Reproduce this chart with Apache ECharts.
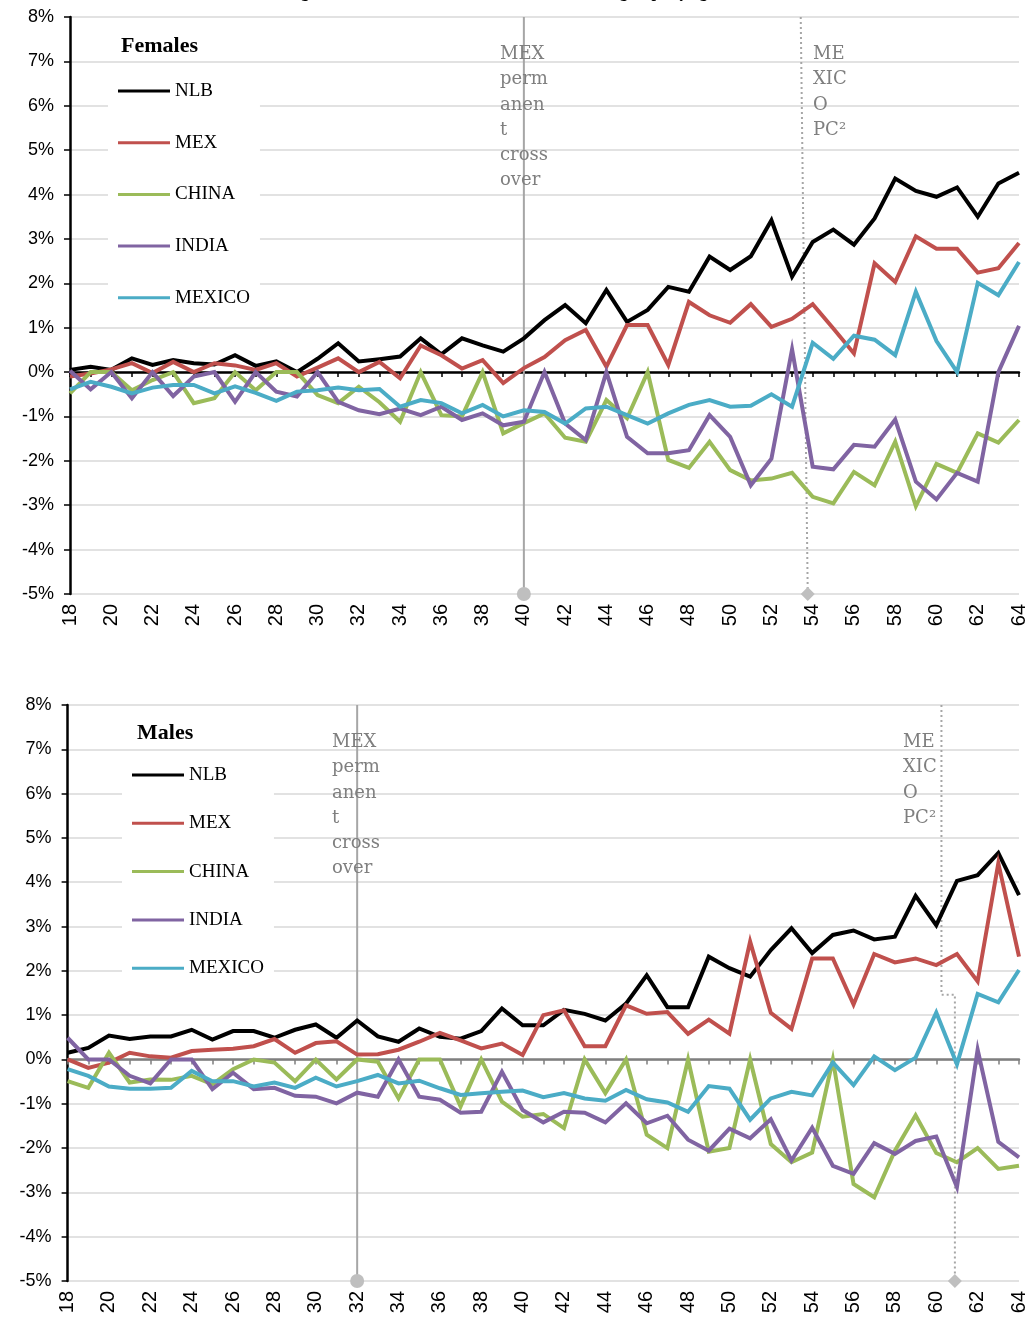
<!DOCTYPE html>
<html>
<head>
<meta charset="utf-8">
<script src="https://cdn.jsdelivr.net/npm/echarts@6/dist/echarts.min.js"></script>
<style>
  html, body { margin: 0; padding: 0; background: #fff; }
  #chart { width: 1029px; height: 1329px; }
</style>
</head>
<body>
<div id="chart"></div>
<script>
// ages on the x axis
var ages = [18,19,20,21,22,23,24,25,26,27,28,29,30,31,32,33,34,35,36,37,38,39,40,41,
            42,43,44,45,46,47,48,49,50,51,52,53,54,55,56,57,58,59,60,61,62,63,64];
var seriesNames = ['NLB', 'MEX', 'CHINA', 'INDIA', 'MEXICO'];
var seriesColors = ['#000000', '#c0504d', '#9bbb59', '#8064a2', '#4bacc6'];

// Females (%)
var nlbF = [0.05,0.12,0.05,0.31,0.16,0.27,0.2,0.17,0.38,0.14,0.24,0.0,0.3,0.65,0.24,0.29,0.35,0.76,0.4,0.76,0.6,0.46,0.76,1.17,
            1.51,1.1,1.85,1.13,1.4,1.92,1.81,2.6,2.3,2.61,3.42,2.15,2.93,3.21,2.87,3.46,4.36,4.08,3.95,4.16,3.5,4.25,4.49];
var mexF = [-0.1,-0.03,0.06,0.2,-0.02,0.23,0.0,0.2,0.15,0.05,0.2,-0.1,0.1,0.31,0.0,0.23,-0.14,0.6,0.38,0.08,0.27,-0.25,0.09,0.34,
            0.72,0.95,0.12,1.06,1.06,0.16,1.58,1.28,1.11,1.53,1.02,1.2,1.53,0.98,0.42,2.45,2.03,3.06,2.78,2.78,2.24,2.34,2.91];
var chinaF = [-0.48,0.0,0.0,-0.41,-0.18,0.0,-0.7,-0.59,0.0,-0.41,0.0,0.0,-0.52,-0.7,-0.33,-0.68,-1.12,0.0,-0.97,-1.0,0.0,-1.38,-1.15,-0.93,
              -1.48,-1.57,-0.63,-1.04,0.0,-1.98,-2.16,-1.57,-2.21,-2.44,-2.4,-2.27,-2.81,-2.96,-2.25,-2.55,-1.57,-3.02,-2.07,-2.27,-1.38,-1.59,-1.08];
var indiaF = [0.03,-0.39,0.0,-0.59,0.0,-0.54,-0.1,0.0,-0.67,0.0,-0.44,-0.55,0.0,-0.67,-0.86,-0.95,-0.82,-0.97,-0.78,-1.08,-0.93,-1.2,-1.12,0.0,
              -1.16,-1.53,0.0,-1.46,-1.83,-1.83,-1.76,-0.97,-1.46,-2.55,-1.95,0.51,-2.13,-2.19,-1.64,-1.68,-1.07,-2.47,-2.87,-2.27,-2.47,0.0,1.04];
var mexicoF = [-0.39,-0.22,-0.33,-0.48,-0.35,-0.29,-0.29,-0.48,-0.32,-0.47,-0.65,-0.44,-0.41,-0.35,-0.41,-0.38,-0.78,-0.63,-0.7,-0.93,-0.74,-1.0,-0.86,-0.9,
               -1.16,-0.82,-0.78,-0.97,-1.16,-0.93,-0.74,-0.63,-0.78,-0.76,-0.5,-0.78,0.66,0.3,0.82,0.73,0.38,1.81,0.7,0.0,2.01,1.73,2.48];

// Males (%)
var nlbM = [0.15,0.26,0.54,0.46,0.52,0.52,0.67,0.45,0.64,0.64,0.49,0.67,0.79,0.49,0.88,0.52,0.4,0.7,0.51,0.47,0.64,1.15,0.77,0.77,
            1.12,1.03,0.88,1.26,1.9,1.18,1.18,2.32,2.06,1.87,2.47,2.96,2.4,2.81,2.91,2.71,2.77,3.69,3.03,4.03,4.16,4.66,3.71];
var mexM = [0.0,-0.19,-0.07,0.15,0.07,0.04,0.19,0.22,0.24,0.3,0.46,0.15,0.37,0.41,0.11,0.12,0.22,0.4,0.6,0.43,0.25,0.36,0.1,1.0,
            1.11,0.3,0.3,1.22,1.03,1.07,0.58,0.9,0.58,2.66,1.05,0.69,2.28,2.28,1.24,2.38,2.19,2.28,2.13,2.38,1.76,4.43,2.32];
var chinaM = [-0.49,-0.64,0.15,-0.52,-0.45,-0.46,-0.37,-0.56,-0.22,0.0,-0.07,-0.49,0.0,-0.45,0.0,-0.05,-0.88,0.0,0.0,-1.06,0.0,-0.95,-1.29,-1.23,
              -1.55,0.0,-0.76,0.0,-1.7,-2.0,0.0,-2.08,-2.0,0.0,-1.91,-2.32,-2.1,0.0,-2.81,-3.11,-2.06,-1.26,-2.11,-2.32,-2.0,-2.47,-2.4];
var indiaM = [0.49,0.0,0.0,-0.37,-0.54,0.0,0.0,-0.67,-0.3,-0.67,-0.64,-0.82,-0.84,-0.99,-0.75,-0.84,0.0,-0.84,-0.91,-1.2,-1.18,-0.28,-1.14,-1.42,
              -1.18,-1.2,-1.42,-0.99,-1.44,-1.27,-1.81,-2.06,-1.56,-1.78,-1.35,-2.28,-1.54,-2.4,-2.58,-1.89,-2.13,-1.84,-1.74,-2.88,0.22,-1.86,-2.21];
var mexicoM = [-0.22,-0.37,-0.61,-0.66,-0.66,-0.64,-0.26,-0.49,-0.49,-0.61,-0.52,-0.64,-0.41,-0.61,-0.49,-0.35,-0.54,-0.48,-0.65,-0.8,-0.76,-0.73,-0.7,-0.85,
               -0.76,-0.88,-0.93,-0.69,-0.9,-0.97,-1.18,-0.6,-0.66,-1.36,-0.88,-0.73,-0.81,-0.07,-0.58,0.07,-0.24,0.04,1.06,-0.11,1.48,1.29,2.02];

// reference lines [age, %]
var crossF = [[40, 8], [40, -5]];
var pcF = [[53.42, 8], [53.76, -5]];
var crossM = [[32, 8], [32, -5]];
var pcM = [[60.25, 8], [60.25, 1.46], [60.9, 1.46], [60.9, -5]];

var chart = echarts.init(document.getElementById('chart'));

var serif = "'Liberation Serif', 'DejaVu Serif', serif";
var narrow = "'Liberation Sans Narrow', 'Liberation Sans', sans-serif";

function pair(vals) {
    return ages.map(function (a, i) { return [a, vals[i]]; });
}

function makeGrid(left, top, width, height) {
    return { left: left, top: top, width: width, height: height, containLabel: false };
}

// axis sitting on 0% with a tick every year
function tickAxis(grid, lineColor) {
    return {
        type: 'value', gridIndex: grid, min: 18, max: 64, interval: 1,
        position: 'bottom',
        axisLine: { show: true, onZero: true, lineStyle: { color: lineColor, width: 2.5 } },
        axisTick: { show: true, length: 5, lineStyle: { color: lineColor, width: 1.5 } },
        axisLabel: { show: false },
        splitLine: { show: false }
    };
}

// labels at the bottom of the grid, every 2 years
function labelAxis(grid) {
    return {
        type: 'value', gridIndex: grid, min: 18, max: 64, interval: 2,
        position: 'bottom',
        axisLine: { show: false, onZero: false },
        axisTick: { show: false },
        axisLabel: { rotate: 90, margin: 10, color: '#000', fontSize: 20, fontFamily: "'Liberation Sans', sans-serif" },
        splitLine: { show: false }
    };
}

function yAxis(grid) {
    return {
        type: 'value', gridIndex: grid, min: -5, max: 8, interval: 1,
        axisLine: { show: true, lineStyle: { color: '#000', width: 2.5 } },
        axisTick: { show: true, length: 6, lineStyle: { color: '#000', width: 1.5 } },
        axisLabel: { formatter: '{value}%', margin: 16, color: '#000', fontSize: 18, fontFamily: narrow },
        splitLine: { show: true, lineStyle: { color: '#d9d9d9', width: 1.5 } }
    };
}

function refLine(grid, data, dotted, symbol) {
    var pts = data.map(function (p, i) {
        if (i === data.length - 1) {
            return { value: p, symbol: symbol, symbolSize: 14 };
        }
        return { value: p, symbol: 'none' };
    });
    return {
        type: 'line', xAxisIndex: grid * 2, yAxisIndex: grid, data: pts,
        showSymbol: true, silent: true, z: 1, clip: false,
        itemStyle: { color: '#bfbfbf' },
        lineStyle: { color: '#a6a6a6', width: 2, type: dotted ? [2, 3] : 'solid' },
        animation: false
    };
}

var female = [nlbF, mexF, chinaF, indiaF, mexicoF];
var male = [nlbM, mexM, chinaM, indiaM, mexicoM];

var series = [
    refLine(0, crossF, false, 'circle'),
    refLine(0, pcF, true, 'diamond'),
    refLine(1, crossM, false, 'circle'),
    refLine(1, pcM, true, 'diamond')
];
[female, male].forEach(function (group, g) {
    group.forEach(function (vals, k) {
        series.push({
            name: seriesNames[k], type: 'line', xAxisIndex: g * 2, yAxisIndex: g,
            data: pair(vals), symbol: 'none', z: 3,
            lineStyle: { color: seriesColors[k], width: 4, join: 'miter' },
            itemStyle: { color: seriesColors[k] },
            animation: false
        });
    });
});

function legend(left, top, gap) {
    return {
        data: seriesNames, orient: 'vertical', left: left, top: top,
        icon: 'rect', itemWidth: 52, itemHeight: 3, itemGap: gap,
        padding: [8, 10], backgroundColor: '#fff',
        textStyle: { fontSize: 19, lineHeight: 22, fontFamily: serif, color: '#000' },
        selectedMode: false
    };
}

function note(text, x, y) {
    return {
        type: 'text', x: x, y: y, z: 5,
        style: { text: text, fill: '#7f7f7f', font: "18px 'DejaVu Serif', serif", lineHeight: 25.2, verticalAlign: 'top' }
    };
}

var option = {
    backgroundColor: '#fff',
    grid: [makeGrid(70, 17, 951, 577), makeGrid(67.6, 705, 956, 576)],
    xAxis: [tickAxis(0, '#000'), labelAxis(0), tickAxis(1, '#7f7f7f'), labelAxis(1)],
    yAxis: [yAxis(0), yAxis(1)],
    legend: [legend(108, 72, 29.7), legend(122, 756, 26.3)],
    series: series,
    graphic: [
        {
            type: 'text', x: 515, y: 1, z: 5,
            style: { text: 'Average observed and modelled differences between groups by age and sex',
                     font: 'bold 16px ' + serif, fill: '#000', align: 'center', verticalAlign: 'bottom' }
        },
        { type: 'text', x: 121, y: 46, z: 5,
          style: { text: 'Females', font: 'bold 22px ' + serif, fill: '#000', verticalAlign: 'middle' } },
        { type: 'text', x: 137, y: 733, z: 5,
          style: { text: 'Males', font: 'bold 22px ' + serif, fill: '#000', verticalAlign: 'middle' } },
        note('MEX\nperm\nanen\nt\ncross\nover', 500, 42),
        note('ME\nXIC\nO\nPC\u00b2', 813, 42),
        note('MEX\nperm\nanen\nt\ncross\nover', 332, 730),
        note('ME\nXIC\nO\nPC\u00b2', 903, 730)
    ]
};

chart.setOption(option);
</script>
</body>
</html>
